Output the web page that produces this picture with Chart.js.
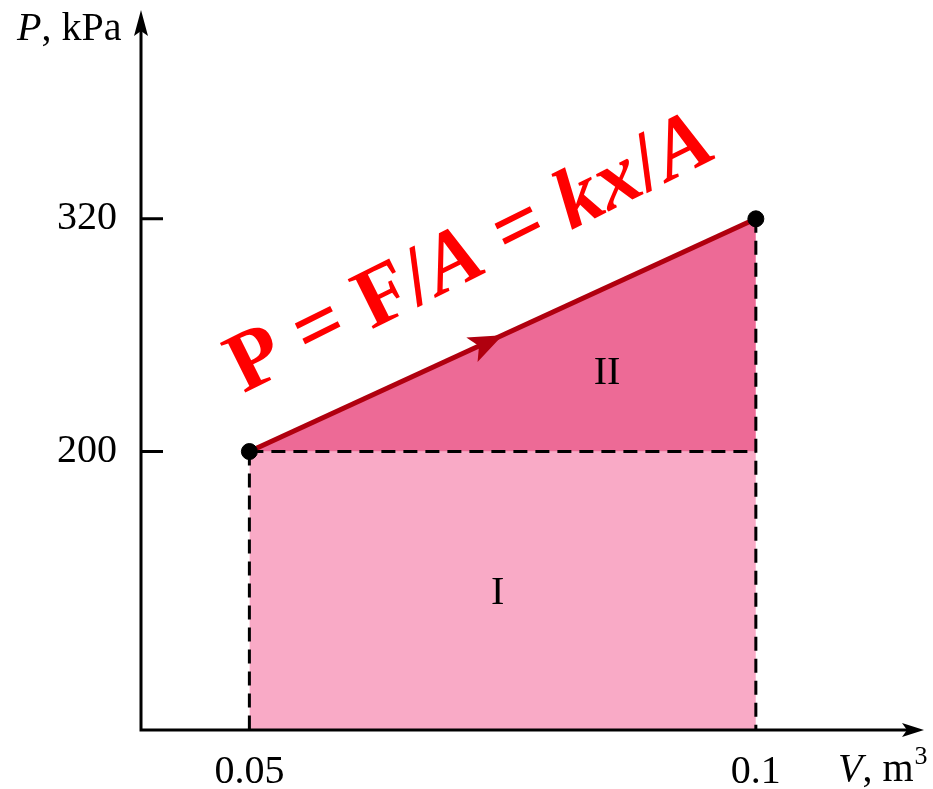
<!DOCTYPE html>
<html>
<head>
<meta charset="utf-8">
<script src="https://cdn.jsdelivr.net/npm/chart.js@4.4.0/dist/chart.umd.min.js"></script>
<style>
  html, body { margin: 0; padding: 0; background: #fff; }
  canvas { display: block; }
</style>
</head>
<body>
<canvas id="pvChart" width="933" height="789"></canvas>
<script>
// Data
const volumes = [0.05, 0.1]; // V, m^3
const pressures = [200, 320]; // P, kPa
const basePressure = [200, 200];
const xTicks = [0.05, 0.1];
const yTicks = [200, 320];
const xRange = [0.0393, 0.1166];
const yRange = [56.4, 428.2];
const regionLabels = [
  { text: "I", x: 0.0745, y: 127 },
  { text: "II", x: 0.0853, y: 240 },
];

const SERIF = "'Liberation Serif', 'DejaVu Serif', serif";

const pts = (xs, ys) => xs.map((x, i) => ({ x: x, y: ys[i] }));

// axes, arrows, tick marks and annotations
const decorPlugin = {
  id: "decor",
  afterDatasetsDraw(chart) {
    const ctx = chart.ctx;
    const area = chart.chartArea;
    const xs = chart.scales.x;
    const ys = chart.scales.y;
    ctx.save();
    ctx.strokeStyle = "#000";
    ctx.fillStyle = "#000";
    ctx.lineWidth = 3;
    ctx.lineCap = "butt";
    // axis lines
    ctx.beginPath();
    ctx.moveTo(area.left, area.bottom);
    ctx.lineTo(area.left, area.top + 20);
    ctx.moveTo(area.left - 1.5, area.bottom);
    ctx.lineTo(area.right - 16, area.bottom);
    ctx.stroke();
    // arrow heads
    ctx.beginPath();
    ctx.moveTo(area.left, area.top + 1);
    ctx.lineTo(area.left + 7, area.top + 27);
    ctx.lineTo(area.left, area.top + 22);
    ctx.lineTo(area.left - 7, area.top + 27);
    ctx.closePath();
    ctx.fill();
    ctx.beginPath();
    ctx.moveTo(area.right, area.bottom);
    ctx.lineTo(area.right - 22, area.bottom - 7);
    ctx.lineTo(area.right - 17, area.bottom);
    ctx.lineTo(area.right - 22, area.bottom + 7);
    ctx.closePath();
    ctx.fill();
    // y tick marks pointing inward
    ctx.beginPath();
    yTicks.forEach((v) => {
      const py = ys.getPixelForValue(v);
      ctx.moveTo(area.left, py);
      ctx.lineTo(area.left + 22, py);
    });
    ctx.stroke();

    // axis titles
    ctx.textBaseline = "alphabetic";
    ctx.textAlign = "left";
    let tx = 17;
    ctx.font = "italic 40px " + SERIF;
    ctx.fillText("P", tx, 40);
    tx += ctx.measureText("P").width;
    ctx.font = "40px " + SERIF;
    ctx.fillText(", kPa", tx, 40);

    tx = 838;
    const by = 781;
    ctx.font = "italic 40px " + SERIF;
    ctx.fillText("V", tx, by);
    tx += ctx.measureText("V").width;
    ctx.font = "40px " + SERIF;
    ctx.fillText(", m", tx, by);
    tx += ctx.measureText(", m").width;
    ctx.font = "26px " + SERIF;
    ctx.fillText("3", tx + 1, by - 17);

    // region labels
    ctx.font = "40px " + SERIF;
    ctx.textAlign = "center";
    ctx.textBaseline = "middle";
    regionLabels.forEach((l) => {
      ctx.fillText(l.text, xs.getPixelForValue(l.x), ys.getPixelForValue(l.y));
    });

    // direction arrow on the process line
    const x0 = xs.getPixelForValue(volumes[0]);
    const y0 = ys.getPixelForValue(pressures[0]);
    const x1 = xs.getPixelForValue(volumes[1]);
    const y1 = ys.getPixelForValue(pressures[1]);
    const ang = Math.atan2(y1 - y0, x1 - x0);
    const mx = (x0 + x1) / 2;
    const my = (y0 + y1) / 2;
    ctx.translate(mx, my);
    ctx.rotate(ang);
    ctx.fillStyle = "#b0000f";
    ctx.beginPath();
    ctx.moveTo(0, 0);
    ctx.lineTo(-34, -13);
    ctx.lineTo(-26, 0);
    ctx.lineTo(-34, 14);
    ctx.closePath();
    ctx.fill();
    ctx.restore();

    // formula along the line
    ctx.save();
    ctx.translate(x0 - 6, y0 - 58);
    ctx.rotate(-26.5 * Math.PI / 180);
    ctx.fillStyle = "#ff0000";
    ctx.textAlign = "left";
    ctx.textBaseline = "alphabetic";
    const parts = [
      ["P", false], [" = ", false], ["F", false], ["/", false], ["A", true],
      [" = ", false], ["k", true], ["x", true], ["/", false], ["A", true],
    ];
    let px = 0;
    parts.forEach(([t, it]) => {
      ctx.font = (it ? "italic " : "") + "bold 85px " + SERIF;
      ctx.fillText(t, px, 0);
      px += ctx.measureText(t).width;
    });
    ctx.restore();
  },
};

const ctx = document.getElementById("pvChart").getContext("2d");
const pvChart = new Chart(ctx, {
  type: "scatter",
  data: {
    datasets: [
      {
        // region I, bottom edge dashed at 200 kPa
        data: pts(volumes, basePressure),
        showLine: true,
        fill: "start",
        backgroundColor: "rgb(249,170,198)",
        borderColor: "#000",
        borderWidth: 3,
        borderDash: [14, 8],
        pointRadius: 0,
        order: 3,
      },
      {
        // region II and the process line
        data: pts(volumes, pressures),
        showLine: true,
        fill: "-1",
        backgroundColor: "rgb(237,106,150)",
        borderColor: "#b0000f",
        borderWidth: 5,
        pointRadius: 0,
        order: 1,
      },
      {
        data: pts([volumes[0], volumes[0]], [pressures[0], yRange[0]]),
        showLine: true,
        borderColor: "#000",
        borderWidth: 3,
        borderDash: [14, 8],
        pointRadius: 0,
        order: 2,
      },
      {
        data: pts([volumes[1], volumes[1]], [pressures[1], yRange[0]]),
        showLine: true,
        borderColor: "#000",
        borderWidth: 3,
        borderDash: [14, 8],
        pointRadius: 0,
        order: 2,
      },
      {
        data: pts(volumes, pressures),
        pointRadius: 8,
        pointBackgroundColor: "#000",
        pointBorderColor: "#000",
        order: 0,
      },
    ],
  },
  options: {
    responsive: false,
    animation: false,
    layout: { padding: { top: 5, right: 4, left: 0, bottom: 0 } },
    plugins: {
      legend: { display: false },
      tooltip: { enabled: false },
      filler: { drawTime: "beforeDatasetsDraw" },
    },
    scales: {
      x: {
        type: "linear",
        min: xRange[0],
        max: xRange[1],
        afterBuildTicks: (s) => { s.ticks = xTicks.map((v) => ({ value: v })); },
        afterFit: (s) => {
          s.height = 59;
          s.paddingLeft = 0;
          s.paddingRight = 0;
        },
        grid: { display: false },
        border: { display: false },
        ticks: {
          color: "#000",
          padding: 10,
          maxRotation: 0,
          font: { family: SERIF, size: 40 },
          callback: (v) => String(v),
        },
      },
      y: {
        type: "linear",
        min: yRange[0],
        max: yRange[1],
        afterBuildTicks: (s) => { s.ticks = yTicks.map((v) => ({ value: v })); },
        afterFit: (s) => {
          s.width = 141;
          s.paddingTop = 0;
          s.paddingBottom = 0;
        },
        grid: { display: false },
        border: { display: false },
        ticks: {
          color: "#000",
          padding: 16,
          font: { family: SERIF, size: 40 },
          callback: (v) => String(v),
        },
      },
    },
  },
  plugins: [decorPlugin],
});
</script>
</body>
</html>
